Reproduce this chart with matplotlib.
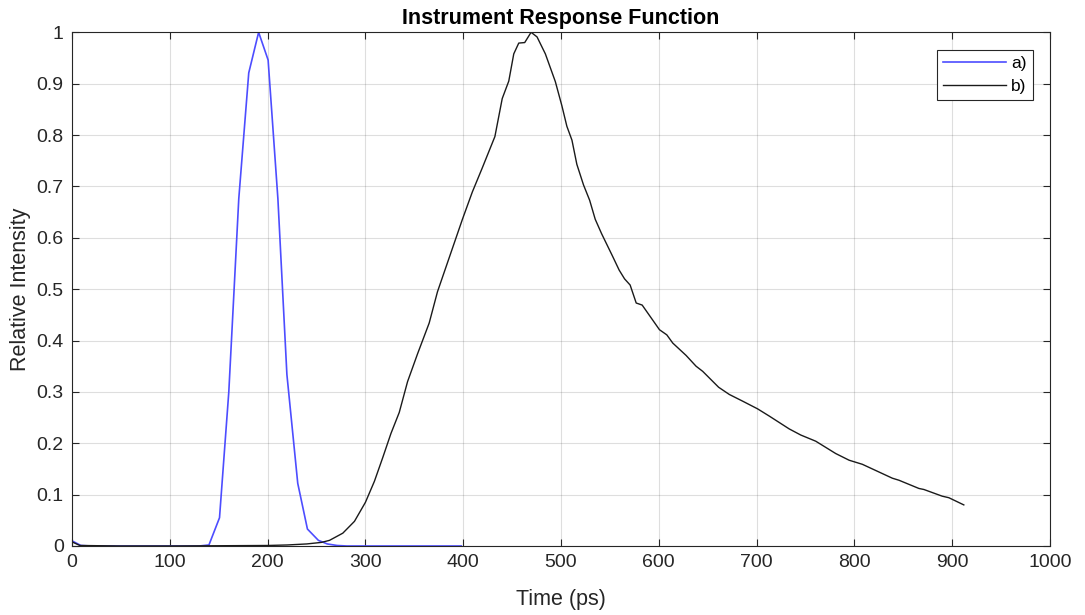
import matplotlib
matplotlib.use("Agg")
import matplotlib.pyplot as plt

plt.rcParams['font.family'] = ['Liberation Sans', 'DejaVu Sans']

# curve a) - narrow IRF
t_a = [0, 9, 20, 30, 40, 50, 60, 70, 80, 90, 100, 110, 120, 130, 140, 150.8, 160.3,
       170.5, 180.7, 190.8, 200.5, 210.5, 219.7, 230.8, 240.7, 251.9, 261, 271, 281,
       290, 300, 320, 340, 360, 380, 398]
i_a = [0.01, 0.001, 0, 0, 0, 0, 0, 0, 0, 0, 0, 0, 0, 0, 0.002, 0.055, 0.30,
       0.676, 0.921, 1.0, 0.946, 0.676, 0.334, 0.122, 0.033, 0.011, 0.004, 0.001, 0,
       0, 0, 0, 0, 0, 0, 0]

# curve b) - broad IRF
t_b = [0, 8, 50, 100, 150, 200, 220, 240, 255, 263.3, 276.9, 288.8, 300, 309.2,
       317.7, 326.1, 334.6, 343.1, 353.3, 365.2, 373.7, 382.2, 390.7, 399.2, 409.3,
       419.5, 432.4, 439.9, 446.6, 451.7, 456.8, 462.9, 469.4, 475.5, 484, 494.2,
       500.9, 506, 511.2, 516.2, 523, 529.3, 535, 541.5, 552.5, 559.5, 565, 570.7,
       576.9, 583, 600.7, 608.2, 614.3, 627.9, 638.1, 644.9, 661.2, 672.1, 685.7,
       701, 712.9, 733.3, 745.2, 760.5, 780.9, 794.6, 808.2, 818.4, 838.8, 845.6,
       866, 871.1, 889.8, 896.6, 911.9]
i_b = [0.008, 0.001, 0, 0, 0.0005, 0.001, 0.002, 0.004, 0.007, 0.011, 0.025, 0.048,
       0.085, 0.126, 0.172, 0.219, 0.26, 0.32, 0.374, 0.434, 0.495, 0.542, 0.589,
       0.636, 0.689, 0.736, 0.797, 0.871, 0.905, 0.958, 0.979, 0.980, 1.0, 0.991,
       0.958, 0.904, 0.857, 0.817, 0.790, 0.743, 0.703, 0.673, 0.636, 0.608, 0.565,
       0.537, 0.52, 0.508, 0.473, 0.469, 0.421, 0.411, 0.395, 0.371, 0.35, 0.34,
       0.309, 0.295, 0.282, 0.267, 0.253, 0.228, 0.216, 0.204, 0.18, 0.167, 0.159,
       0.15, 0.132, 0.128, 0.112, 0.11, 0.097, 0.094, 0.08]

fig = plt.figure(figsize=(10.85, 6.15), dpi=100)
ax = fig.add_axes([0.0664, 0.1122, 0.9013, 0.8353])

ax.plot(t_a, i_a, color='#4d4dff', lw=1.2, label='a)')
ax.plot(t_b, i_b, color='#1a1a1a', lw=1.0, label='b)')

ax.set_xlim(0, 1000)
ax.set_ylim(0, 1)
ax.set_xticks(range(0, 1001, 100))
ax.set_yticks([i / 10 for i in range(11)])
ax.set_yticklabels(['0', '0.1', '0.2', '0.3', '0.4', '0.5', '0.6', '0.7', '0.8', '0.9', '1'])
ax.grid(True, color='#262626', alpha=0.15, lw=0.8)
ax.tick_params(direction='in', top=True, right=True, labelsize=14, colors='#262626',
               length=5, width=0.8, pad=6)
for s in ax.spines.values():
    s.set_color('#262626')
    s.set_linewidth(0.8)

ax.set_xlabel('Time (ps)', fontsize=15.5, color='#262626', labelpad=13)
ax.set_ylabel('Relative Intensity', fontsize=15.5, color='#262626', labelpad=4)
ax.set_title('Instrument Response Function', fontsize=15.5, fontweight='bold', pad=6)

leg = ax.legend(loc='upper right', fontsize=12.5, fancybox=False, framealpha=1,
                edgecolor='#262626', handlelength=3.6, handletextpad=0.3,
                borderaxespad=1.0, labelspacing=0.45, borderpad=0.35)
leg.get_frame().set_linewidth(0.8)

fig.savefig('out.png', dpi=100)
